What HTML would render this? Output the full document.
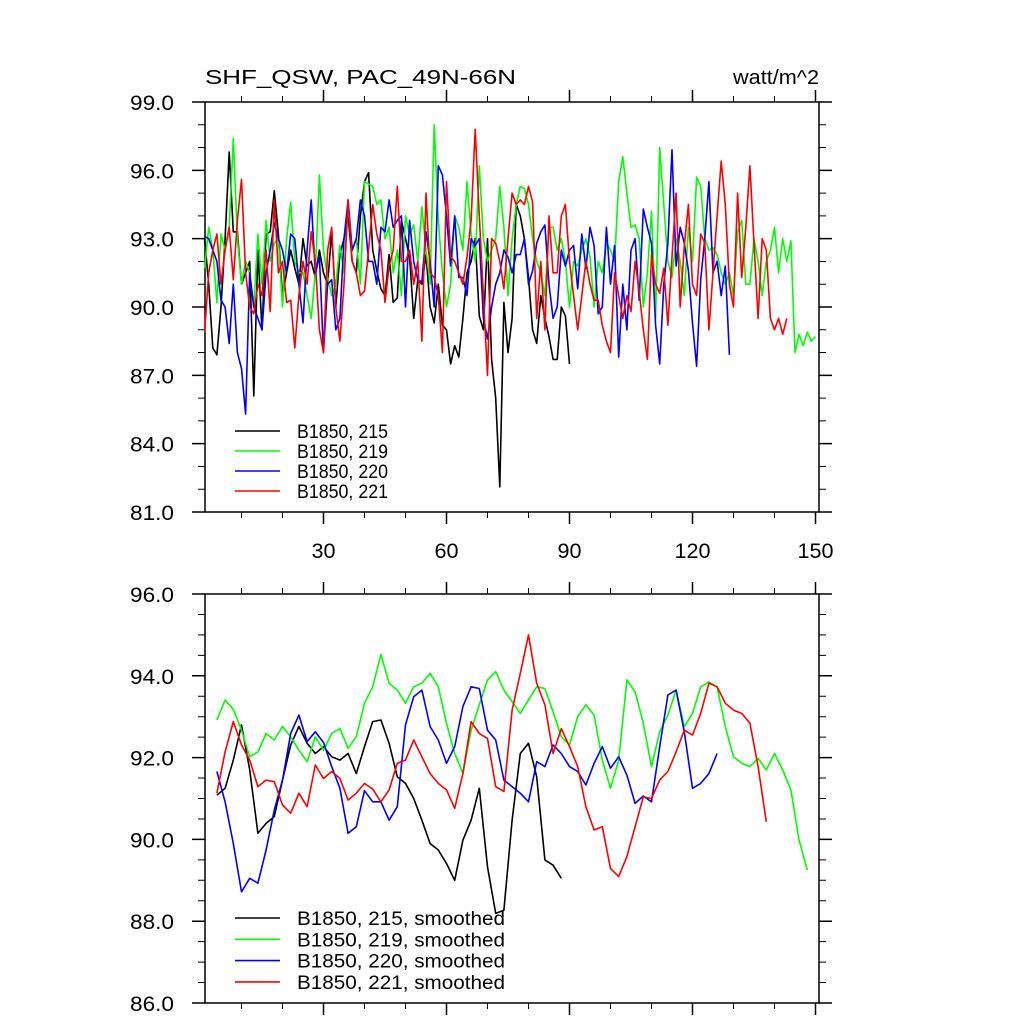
<!DOCTYPE html>
<html><head><meta charset="utf-8"><style>
html,body{margin:0;padding:0;background:#fff}
svg{display:block;font-family:"Liberation Sans",sans-serif}
</style></head><body>
<svg id="chart" width="1024" height="1024" viewBox="0 0 1024 1024" xmlns="http://www.w3.org/2000/svg">
<text x="205" y="84" font-size="20" textLength="311" lengthAdjust="spacingAndGlyphs">SHF_QSW, PAC_49N-66N</text>
<text x="733" y="84" font-size="20" textLength="86" lengthAdjust="spacingAndGlyphs">watt/m^2</text>
<g id="axes"></g>
<g id="series"></g>
<g id="legends"></g>
</svg>
<script>
const raw215=[93.0,91.0,88.2,87.9,90.0,93.0,96.8,93.3,93.3,91.0,91.5,92.0,86.1,92.5,89.0,93.2,93.3,95.1,93.2,90.5,91.5,92.5,91.7,91.0,93.0,91.8,92.0,91.3,92.5,91.5,91.0,93.3,90.0,92.3,93.0,94.0,92.0,91.5,94.0,95.5,95.9,92.5,91.6,90.8,90.5,92.3,90.2,90.4,93.8,93.0,92.2,89.5,91.2,91.0,92.3,90.0,89.3,91.0,89.2,89.0,87.5,88.3,87.8,89.5,91.5,92.0,93.0,89.6,89.0,93.0,87.7,86.0,82.1,90.2,88.0,89.5,94.5,94.0,93.0,91.3,89.0,88.4,90.5,89.5,88.7,87.7,87.7,90.0,89.6,87.5];
const raw219=[91.7,93.5,92.5,90.2,93.2,92.5,93.5,97.4,93.0,91.0,92.0,91.5,90.0,93.2,91.0,93.8,92.0,92.8,93.0,90.0,93.0,94.6,92.0,91.5,91.5,90.5,89.5,91.5,95.8,92.5,91.3,90.5,91.0,92.7,91.5,94.5,92.5,93.0,91.0,95.5,95.4,95.3,94.5,94.7,93.0,93.5,91.5,92.5,90.5,94.0,93.2,93.6,92.0,94.4,92.5,91.0,98.0,93.8,91.5,90.0,91.0,94.0,93.5,92.5,95.5,93.2,92.0,96.2,93.0,92.0,92.5,93.0,95.3,93.5,90.5,93.0,94.5,95.3,95.2,94.5,93.0,92.0,91.5,90.5,93.5,93.5,92.5,93.0,92.0,90.0,92.0,91.8,92.5,93.0,92.2,90.0,92.0,91.5,92.8,92.5,92.0,95.5,96.6,95.0,93.5,93.6,93.0,90.0,91.5,94.2,89.5,97.0,94.5,92.0,91.3,93.0,92.0,90.5,93.5,92.0,95.7,95.3,93.0,92.5,92.6,92.3,91.5,91.0,91.5,90.5,93.3,93.8,91.0,91.0,93.0,92.0,90.5,92.0,92.5,93.5,91.5,93.0,92.0,92.9,88.0,88.8,88.3,88.9,88.5,88.7];
const raw220=[93.1,93.0,92.5,92.0,90.3,90.0,88.4,91.0,88.0,87.3,85.3,91.5,90.0,89.5,89.0,91.5,92.5,93.7,93.0,92.5,91.5,93.2,93.0,91.0,89.3,92.5,94.7,91.5,92.2,88.0,91.0,91.2,89.0,89.5,93.0,94.7,92.5,93.0,94.7,94.0,92.0,92.0,91.0,93.5,93.3,94.7,93.5,93.8,94.0,90.0,93.8,92.0,91.2,91.1,93.3,92.0,90.0,96.2,95.8,94.0,91.8,94.0,91.3,91.3,90.5,93.0,92.7,93.0,89.5,88.6,90.0,91.0,91.5,92.5,92.2,91.5,92.3,92.3,93.0,91.0,91.6,92.8,93.3,93.6,91.0,89.5,90.0,92.5,91.8,92.5,92.7,90.8,93.2,91.7,93.5,92.7,89.7,90.0,93.5,91.0,92.7,87.8,91.0,89.0,92.5,93.0,90.3,94.3,93.5,92.8,89.2,87.5,91.0,92.8,96.9,91.8,93.5,92.8,91.6,89.3,87.4,91.2,93.0,95.5,91.5,92.0,90.5,91.8,87.9];
const raw221=[88.9,91.5,92.5,93.2,91.0,92.5,93.5,91.2,93.8,95.6,91.5,90.0,89.7,91.0,90.5,92.5,89.8,94.7,91.5,92.0,90.2,90.3,88.2,90.5,92.0,91.0,93.3,92.0,89.0,88.0,92.5,93.5,90.0,88.5,91.0,94.7,92.0,91.5,90.5,90.7,92.5,94.5,93.2,92.5,90.2,91.8,92.5,95.3,92.0,92.0,92.5,91.0,92.0,88.5,95.0,91.5,91.3,90.5,88.0,95.5,92.2,92.0,91.5,91.0,92.2,93.8,97.8,94.0,90.5,87.0,93.0,92.8,92.0,90.8,93.0,95.0,94.5,94.7,94.5,95.3,94.6,89.5,92.0,89.0,94.0,91.5,91.5,94.0,94.5,92.0,90.5,89.0,90.5,92.0,91.0,90.3,90.3,89.2,88.5,88.0,91.5,90.5,89.5,90.5,89.8,92.0,90.7,89.0,87.7,92.3,91.0,90.6,91.7,89.2,92.2,95.0,90.0,92.7,94.5,91.0,90.5,93.2,92.8,89.0,91.5,94.0,96.4,94.5,91.0,90.0,95.0,91.3,93.5,96.2,92.8,89.5,93.0,92.5,89.5,89.0,89.5,88.8,89.5];
const smooth215=[91.08,91.25,91.94,92.80,91.70,90.15,90.39,90.56,91.45,92.31,92.76,92.35,92.10,92.27,92.02,91.94,92.10,91.61,92.27,92.88,92.92,92.35,91.53,91.37,91.0,90.47,89.9,89.74,89.41,89.0,89.98,90.47,91.25,89.33,88.19,88.27,90.47,92.1,92.35,91.53,89.5,89.37,89.05];
const smooth219=[92.92,93.41,93.18,92.67,92.02,92.14,92.59,92.43,92.76,92.51,92.18,91.9,92.51,92.18,92.59,92.71,92.23,92.51,93.33,93.73,94.52,93.82,93.65,93.33,93.73,93.82,94.06,93.73,92.84,92.1,91.61,92.67,93.29,93.9,94.1,93.65,93.37,93.08,93.41,93.73,93.69,93.12,92.51,92.31,93.0,93.29,93.04,91.94,91.25,91.94,93.9,93.61,92.84,91.78,92.63,93.04,93.65,92.76,93.08,93.73,93.85,93.73,92.76,92.02,91.86,91.78,91.98,91.7,92.1,91.7,91.21,89.98,89.25];
const smooth220=[91.66,90.92,89.9,88.72,89.05,88.93,89.74,90.72,91.45,92.59,93.04,92.39,92.63,92.37,91.78,91.25,90.15,90.31,91.19,90.92,90.92,90.47,90.8,92.8,93.49,93.65,92.76,92.43,91.86,92.27,93.25,93.73,93.69,92.67,92.43,91.45,91.29,91.13,90.92,91.9,91.78,92.31,92.1,91.78,91.66,91.33,91.86,92.27,91.74,92.02,91.57,90.88,91.06,90.92,92.27,93.53,93.65,92.63,91.25,91.37,91.61,92.1];
const smooth221=[91.13,92.14,92.88,92.31,91.94,91.29,91.45,91.41,90.84,90.64,91.13,90.8,91.82,91.49,91.66,91.49,90.96,91.13,91.37,91.23,90.92,91.21,91.86,91.94,92.43,92.02,91.61,91.37,91.21,90.76,91.61,92.88,92.59,92.47,91.29,91.17,93.16,94.06,95.0,93.82,93.29,92.1,92.71,92.27,91.78,90.8,90.23,90.31,89.29,89.09,89.58,90.31,91.04,91.0,91.45,91.66,92.14,92.67,92.55,93.08,93.82,93.73,93.33,93.16,93.08,92.84,91.78,90.43];
const rawStart=1, smoothStart=4, smoothStep=2;
const topYTicks=[81,84,87,90,93,96,99];
const botYTicks=[86,88,90,92,94,96];
const xTicks=[30,60,90,120,150];
const legendTop=["B1850, 215","B1850, 219","B1850, 220","B1850, 221"];
const legendBot=["B1850, 215, smoothed","B1850, 219, smoothed","B1850, 220, smoothed","B1850, 221, smoothed"];

const NS="http://www.w3.org/2000/svg";
const colors=["#000000","#00ff00","#0000ff","#ff0000"];
const L=205,R=819,T1=102,B1=512,T2=594,B2=1003;
function xs(x){return 200.5+4.1*x;}
function y1(v){return T1+(99-v)*(B1-T1)/18;}
function y2(v){return T2+(96-v)*(B2-T2)/10;}
function mk(tag,attrs,parent){const e=document.createElementNS(NS,tag);for(const k in attrs)e.setAttribute(k,attrs[k]);parent.appendChild(e);return e;}
const axes=document.getElementById('axes'),ser=document.getElementById('series'),leg=document.getElementById('legends');

function panel(T,B,yfn,ymin,ymax,ymaj,ymin_step,yticks,name,labelX){
  const g=mk('g',{},axes);
  
  
  const f=mk('rect',{x:L,y:T,width:R-L,height:B-T,fill:'none',stroke:'#000','stroke-width':1.5},g);
  
  
  for(let v=ymin;v<=ymax+1e-6;v+=ymin_step){
    const major=Math.abs((v-ymin)/ymaj-Math.round((v-ymin)/ymaj))<1e-6;
    const len=major?13:7,y=yfn(v);
    const t=mk('path',{d:`M${L} ${y}H${L-len}M${R} ${y}H${R+len}`,stroke:'#000','stroke-width':major?1.5:1},g);
    
    
  }
  yticks.forEach(v=>{
    const t=mk('text',{x:174,y:yfn(v)+8,'font-size':21,'text-anchor':'end',textLength:44,lengthAdjust:'spacingAndGlyphs'},g);
    t.textContent=v.toFixed(1);
    
    
  });
  for(let x=10;x<=150;x+=10){
    const major=x%30===0,len=major?12:6,px=xs(x);
    const t=mk('path',{d:`M${px} ${T}V${T-len}M${px} ${B}V${B+len}`,stroke:'#000','stroke-width':major?1.5:1},g);
    
    
  }
  if(labelX){xTicks.forEach(x=>{
    const t=mk('text',{x:xs(x),y:558,'font-size':21,'text-anchor':'middle',textLength:x>=100?36:24,lengthAdjust:'spacingAndGlyphs'},g);
    t.textContent=String(x);
    
    
  });}
}
panel(T1,B1,y1,81,99,3,1,topYTicks,'top-panel',true);
panel(T2,B2,y2,86,96,2,0.5,botYTicks,'bottom-panel',false);

function line(arr,start,step,yfn,color,name){
  const pts=arr.map((v,i)=>xs(start+i*step).toFixed(1)+','+yfn(v).toFixed(1)).join(' ');
  const p=mk('polyline',{points:pts,fill:'none',stroke:color,'stroke-width':1.6,'stroke-linejoin':'round'},ser);
  
  
}
[raw215,raw219,raw220,raw221].forEach((a,i)=>line(a,rawStart,1,y1,colors[i],'line-'+['215','219','220','221'][i]));
[smooth215,smooth219,smooth220,smooth221].forEach((a,i)=>line(a,smoothStart,smoothStep,y2,colors[i],'smoothed-line-'+['215','219','220','221'][i]));

function legend(labels,y0,dy,w){
  labels.forEach((s,i)=>{
    const y=y0+i*dy;
    const g=mk('g',{},leg);
    
    
    mk('line',{x1:235,x2:280,y1:y,y2:y,stroke:colors[i],'stroke-width':1.6},g);
    const t=mk('text',{x:297,y:y+7,'font-size':19,textLength:w,lengthAdjust:'spacingAndGlyphs'},g);
    t.textContent=s;
  });
}
legend(legendTop,431,20,91);
legend(legendBot,918,21.3,208);
</script>
</body></html>
